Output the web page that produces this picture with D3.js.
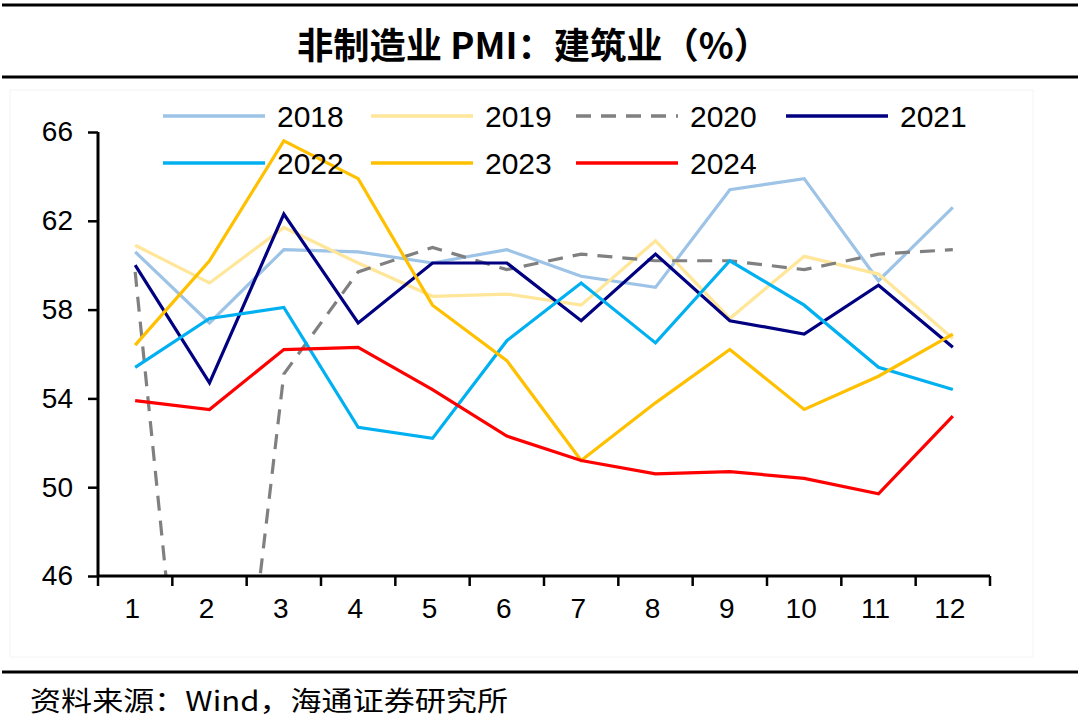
<!DOCTYPE html>
<html>
<head>
<meta charset="utf-8">
<script src="https://cdn.jsdelivr.net/npm/d3@7"></script>
<style>
  html, body { margin: 0; padding: 0; background: #fff; }
  svg { display: block; }
</style>
</head>
<body>
<svg id="chart" width="1080" height="717"></svg>
<script>
// ---- data ----
const months = ["1","2","3","4","5","6","7","8","9","10","11","12"];
const yTicks = [46, 50, 54, 58, 62, 66];
const seriesNames = ["2018","2019","2020","2021","2022","2023","2024"];
const v2018 = [60.6, 57.4, 60.7, 60.6, 60.1, 60.7, 59.5, 59.0, 63.4, 63.9, 59.3, 62.6];
const v2019 = [60.9, 59.2, 61.7, 60.1, 58.6, 58.7, 58.2, 61.1, 57.6, 60.4, 59.6, 56.7];
const v2020 = [59.7, 26.6, 55.1, 59.7, 60.8, 59.8, 60.5, 60.2, 60.2, 59.8, 60.5, 60.7];
const v2021 = [60.0, 54.7, 62.3, 57.4, 60.1, 60.1, 57.5, 60.5, 57.5, 56.9, 59.1, 56.3];
const v2022 = [55.4, 57.6, 58.1, 52.7, 52.2, 56.6, 59.2, 56.5, 60.2, 58.2, 55.4, 54.4];
const v2023 = [56.4, 60.2, 65.6, 63.9, 58.2, 55.7, 51.2, 53.8, 56.2, 53.5, 55.0, 56.9];
const v2024 = [53.9, 53.5, 56.2, 56.3, 54.4, 52.3, 51.2, 50.6, 50.7, 50.4, 49.7, 53.2];

(function () {
const seriesValues = [v2018, v2019, v2020, v2021, v2022, v2023, v2024];
const colors = ["#9DC3E6", "#FFE699", "#808080", "#000080", "#00B0F0", "#FFC000", "#FF0000"];
const dashes = [null, null, "15,10", null, null, null, null];

const svg = d3.select("#chart");
const W = 1080;

// frame lines
svg.append("rect").attr("x", 10).attr("y", 90).attr("width", 1023).attr("height", 567)
  .attr("fill", "none").attr("stroke", "#f4f4f4").attr("stroke-width", 1);
[5, 77, 672].forEach(yy => {
  svg.append("line").attr("x1", 2).attr("x2", W - 2).attr("y1", yy).attr("y2", yy)
    .attr("stroke", "#000").attr("stroke-width", 3);
});

// title
svg.append("text").attr("x", 297).attr("y", 43)
  .attr("dominant-baseline", "central")
  .attr("textLength", 473).attr("lengthAdjust", "spacingAndGlyphs")
  .style("font-family", "'Noto Sans CJK SC', sans-serif").style("font-weight", "bold")
  .style("font-size", "36px").text("非制造业 PMI：建筑业（%）");

// source
svg.append("text").attr("x", 30).attr("y", 699)
  .attr("dominant-baseline", "central")
  .attr("textLength", 478).attr("lengthAdjust", "spacingAndGlyphs")
  .style("font-family", "'Noto Sans CJK SC', sans-serif")
  .style("font-size", "27px").text("资料来源：Wind，海通证券研究所");

// scales
const pLeft = 98, pRight = 990, pTop = 132, pBottom = 576;
const x = d3.scaleBand().domain(months).range([pLeft, pRight]);
const y = d3.scaleLinear().domain([46, 66]).range([pBottom, pTop]);

// clip
svg.append("clipPath").attr("id", "plotclip").append("rect")
  .attr("x", pLeft).attr("y", 90).attr("width", pRight - pLeft + 10).attr("height", pBottom - 90);

// lines
const line = d3.line().x((d, i) => x(months[i]) + x.bandwidth() / 2).y(d => y(d));
const g = svg.append("g").attr("clip-path", "url(#plotclip)");
seriesValues.forEach((vals, k) => {
  g.append("path").datum(vals).attr("d", line)
    .attr("fill", "none").attr("stroke", colors[k]).attr("stroke-width", 3.2)
    .attr("stroke-linejoin", "miter")
    .attr("stroke-dasharray", dashes[k]);
});

// axes
const yAxis = d3.axisLeft(y).tickValues(yTicks).tickSize(10).tickPadding(15);
const gy = svg.append("g").attr("transform", `translate(${pLeft},0)`).call(yAxis);
const xAxis = d3.axisBottom(x).tickSize(0).tickPadding(22);
const gx = svg.append("g").attr("transform", `translate(0,${pBottom})`).call(xAxis);
[gy, gx].forEach(a => {
  a.select(".domain").attr("stroke", "#000").attr("stroke-width", 3);
  a.selectAll(".tick line").attr("stroke", "#000").attr("stroke-width", 2.5);
  a.selectAll("text").style("font-family", "'Liberation Sans', Arial, sans-serif")
    .style("font-size", "28px").attr("fill", "#000");
});
gx.select(".domain").attr("d", `M${pLeft},0H${pRight}`);
gy.select(".domain").attr("d", `M0,${pTop}V${pBottom}`);
// x tick marks at band boundaries
const boundaries = months.map(m => x(m)).concat([pRight]);
svg.append("g").selectAll("line").data(boundaries).join("line")
  .attr("x1", d => d).attr("x2", d => d).attr("y1", pBottom).attr("y2", pBottom + 10)
  .attr("stroke", "#000").attr("stroke-width", 2.5);
gx.selectAll(".tick text").attr("dx", -3);

// legend
const legX = [163, 371, 576, 786];
const legY = [116, 163];
const leg = svg.append("g");
seriesNames.forEach((name, k) => {
  const col = k % 4, row = Math.floor(k / 4);
  const lx = legX[col], ly = legY[row];
  leg.append("line").attr("x1", lx).attr("x2", lx + 102).attr("y1", ly).attr("y2", ly)
    .attr("stroke", colors[k]).attr("stroke-width", 3.6)
    .attr("stroke-dasharray", dashes[k]);
  leg.append("text").attr("x", lx + 114).attr("y", ly).attr("dominant-baseline", "central")
    .style("font-family", "'Liberation Sans', Arial, sans-serif").style("font-size", "30px")
    .text(name);
});
})();
</script>
</body>
</html>
